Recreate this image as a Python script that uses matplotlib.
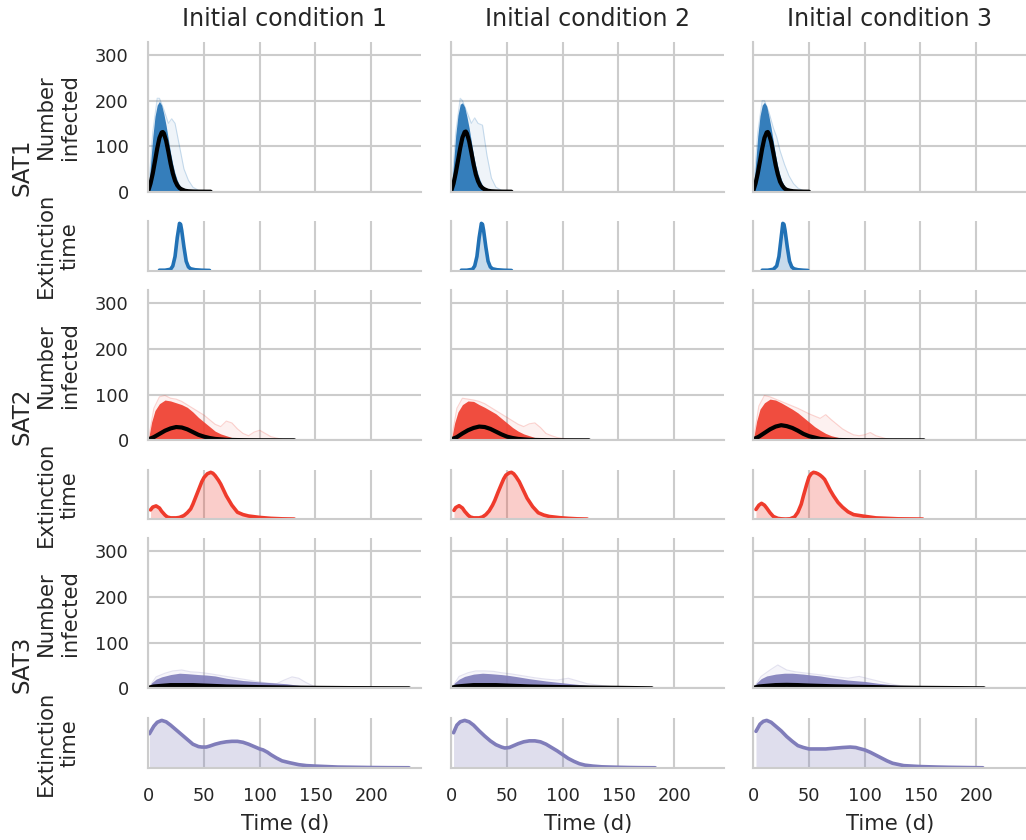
import matplotlib
matplotlib.use("Agg")
import matplotlib.pyplot as plt

# ---------------- data ----------------
strains = ["SAT1", "SAT2", "SAT3"]
conditions = ["Initial condition 1", "Initial condition 2", "Initial condition 3"]
colors = ["#2171b5", "#ef3b2c", "#807dba"]
xticks = [0, 50, 100, 150, 200]
yticks = [0, 100, 200, 300]

# --- SAT1 ---
sat1_core_t = [0, 2, 4, 6, 8, 10, 12, 14, 16, 18, 20, 22, 24, 26, 28, 30, 33, 36]
sat1_core = [
    [0, 60, 120, 165, 190, 198, 190, 170, 145, 115, 85, 60, 40, 25, 15, 8, 3, 0],
    [0, 62, 125, 168, 192, 195, 186, 165, 140, 110, 80, 56, 38, 24, 14, 7, 3, 0],
    [0, 60, 122, 166, 190, 196, 188, 166, 140, 110, 80, 55, 36, 22, 13, 7, 2, 0],
]
sat1_outer_t = [0, 4, 8, 10, 14, 18, 21, 24, 28, 32, 36, 40, 45, 50]
sat1_outer = [
    [0, 130, 205, 205, 180, 150, 160, 150, 100, 50, 25, 10, 3, 0],
    [0, 130, 205, 200, 175, 150, 162, 150, 146, 80, 30, 10, 3, 0],
    [0, 130, 200, 200, 175, 140, 120, 90, 60, 35, 18, 8, 2, 0],
]
sat1_mean_t = [
    [0, 2, 4, 6, 8, 10, 12, 13, 14, 16, 18, 20, 22, 24, 26, 28, 30, 33, 36, 40, 45, 56],
    [0, 2, 4, 6, 8, 10, 12, 13, 14, 16, 18, 20, 22, 24, 26, 28, 30, 33, 36, 40, 45, 54],
    [0, 2, 4, 6, 8, 10, 12, 13, 14, 16, 18, 20, 22, 24, 26, 28, 30, 33, 36, 40, 45, 50],
]
sat1_mean = [
    [2, 18, 40, 67, 95, 118, 130, 131, 128, 112, 88, 62, 40, 24, 14, 8, 5, 2, 1, 0.5, 0.2, 0],
    [2, 18, 41, 68, 96, 119, 131, 132, 128, 111, 86, 60, 38, 23, 13, 8, 5, 2, 1, 0.5, 0.2, 0],
    [2, 18, 40, 67, 95, 118, 130, 131, 127, 110, 85, 59, 38, 22, 13, 7, 4, 2, 1, 0.5, 0.2, 0],
]
sat1_kde_t = [
    [10, 15, 20, 22, 24, 26, 28, 29, 30, 32, 34, 36, 38, 42, 48, 55],
    [9, 14, 19, 21, 23, 25, 27, 28, 29, 31, 33, 35, 37, 41, 47, 54],
    [8, 13, 18, 21, 23, 25, 26.5, 27.5, 28.5, 30.5, 32.5, 34.5, 36.5, 40, 45, 49],
]
sat1_kde = [
    [0.01, 0.01, 0.03, 0.1, 0.3, 0.7, 1.0, 0.98, 0.85, 0.5, 0.2, 0.08, 0.04, 0.02, 0.01, 0.005],
    [0.01, 0.01, 0.03, 0.1, 0.3, 0.7, 1.0, 0.98, 0.85, 0.5, 0.2, 0.08, 0.04, 0.02, 0.01, 0.005],
    [0.01, 0.01, 0.03, 0.1, 0.3, 0.7, 1.0, 0.98, 0.85, 0.5, 0.2, 0.08, 0.04, 0.02, 0.01, 0.005],
]

# --- SAT2 ---
sat2_core_t = [0, 3, 6, 10, 15, 20, 25, 30, 35, 40, 45, 50, 55, 60, 65, 70, 75, 80, 90, 100]
sat2_core = [
    [0, 40, 65, 80, 88, 86, 82, 78, 72, 62, 50, 40, 30, 20, 14, 10, 6, 4, 2, 0.5],
    [0, 38, 62, 78, 86, 85, 78, 72, 65, 58, 48, 38, 28, 20, 14, 10, 6, 4, 2, 0.5],
    [0, 42, 68, 82, 90, 88, 82, 75, 68, 60, 50, 40, 30, 22, 15, 10, 7, 4, 2, 0.5],
]
sat2_outer_t = [0, 5, 10, 15, 20, 25, 30, 40, 50, 60, 65, 70, 75, 80, 85, 90, 95, 100, 105, 110, 120, 125]
sat2_outer = [
    [0, 70, 95, 98, 92, 90, 85, 70, 55, 35, 30, 42, 38, 25, 15, 10, 18, 22, 15, 8, 2, 0],
    [0, 70, 92, 90, 88, 85, 80, 65, 50, 35, 30, 36, 38, 28, 15, 10, 6, 4, 2, 1, 0, 0],
    [0, 75, 98, 95, 90, 85, 80, 70, 58, 48, 56, 45, 35, 25, 18, 12, 10, 12, 17, 10, 3, 0],
]
sat2_mean_t = [
    [0, 5, 10, 15, 20, 25, 30, 35, 40, 45, 50, 55, 60, 70, 80, 90, 100, 131],
    [0, 5, 10, 15, 20, 25, 30, 35, 40, 45, 50, 55, 60, 70, 80, 90, 100, 123.5],
    [0, 5, 10, 15, 20, 25, 30, 35, 40, 45, 50, 55, 60, 70, 80, 90, 100, 153],
]
sat2_mean = [
    [2, 7, 14, 21, 26, 29, 28, 24, 18, 12, 8, 5, 3, 1, 0.5, 0.2, 0.1, 0],
    [2, 7, 15, 22, 27, 30, 29, 25, 19, 13, 8, 5, 3, 1, 0.5, 0.2, 0.1, 0],
    [2, 8, 16, 24, 30, 33, 31, 27, 21, 14, 9, 6, 3, 1, 0.5, 0.2, 0.1, 0],
]
sat2_kde_t = [
    [2, 4, 7, 10, 12, 15, 17, 20, 25, 28, 32, 35, 38, 40, 43, 46, 48, 50, 53, 56, 58, 60, 63, 65, 68, 70, 75, 80, 85, 90, 100, 110, 120, 131],
    [2.4, 4, 7, 10, 12, 15, 17, 20, 25, 28, 31, 34, 37, 39, 42, 45, 47, 49, 52, 54, 56, 58, 61, 63, 66, 68, 73, 78, 83, 88, 97, 105, 113, 122],
    [2.4, 5, 7.4, 10, 12, 15, 18, 22, 25, 29, 33, 37, 40, 43, 45, 48, 50, 52, 54, 56, 58, 60, 62, 64, 66, 69, 72, 76, 80, 85, 90, 98, 110, 130, 152],
]
sat2_kde = [
    [0.2, 0.26, 0.285, 0.24, 0.17, 0.09, 0.05, 0.03, 0.03, 0.04, 0.08, 0.14, 0.22, 0.32, 0.5, 0.68, 0.8, 0.89, 0.97, 1.0, 0.98, 0.93, 0.83, 0.75, 0.6, 0.5, 0.3, 0.15, 0.1, 0.07, 0.04, 0.02, 0.01, 0.005],
    [0.19, 0.25, 0.29, 0.24, 0.17, 0.09, 0.05, 0.03, 0.03, 0.05, 0.1, 0.18, 0.3, 0.4, 0.58, 0.75, 0.86, 0.94, 0.99, 1.0, 0.97, 0.91, 0.8, 0.7, 0.55, 0.45, 0.27, 0.14, 0.09, 0.06, 0.035, 0.02, 0.01, 0.005],
    [0.21, 0.3, 0.34, 0.3, 0.24, 0.14, 0.06, 0.02, 0.01, 0.005, 0.01, 0.05, 0.15, 0.32, 0.5, 0.75, 0.9, 0.97, 1.0, 0.99, 0.97, 0.94, 0.9, 0.85, 0.76, 0.62, 0.5, 0.36, 0.26, 0.16, 0.1, 0.07, 0.03, 0.01, 0.005],
]

# --- SAT3 ---
sat3_core_t = [0, 3, 7, 12, 20, 28, 35, 45, 52, 60, 70, 76, 85, 100, 112, 124, 140, 155, 171, 185, 200]
sat3_core = [
    [0, 12, 20, 25, 30, 33, 32, 30, 29, 27, 22, 20, 17, 14, 12, 10, 5, 3, 1, 0.5, 0],
    [0, 12, 20, 26, 31, 33, 32, 30, 28, 25, 21, 19, 16, 12, 9, 6, 3, 1.5, 0.5, 0, 0],
    [0, 12, 21, 27, 31, 33, 33, 31, 29, 27, 23, 21, 18, 15, 11, 8, 4, 2, 1, 0.3, 0],
]
sat3_outer_t = [0, 7, 15, 22, 30, 38, 45, 55, 65, 75, 85, 95, 105, 115, 122, 129, 135, 142, 150, 160]
sat3_outer = [
    [0, 25, 33, 38, 40, 36, 35, 32, 28, 24, 20, 16, 12, 10, 18, 25, 22, 12, 3, 0],
    [0, 26, 34, 38, 38, 37, 34, 31, 27, 23, 20, 18, 22, 15, 10, 8, 6, 4, 2, 0],
    [0, 26, 40, 51, 40, 36, 34, 31, 28, 25, 22, 26, 20, 14, 10, 7, 5, 4, 3, 0],
]
sat3_mean_t = [
    [0, 5, 10, 20, 30, 40, 50, 70, 100, 130, 150, 180, 200, 234],
    [0, 5, 10, 20, 30, 40, 50, 70, 100, 130, 150, 180],
    [0, 5, 10, 20, 30, 40, 50, 70, 100, 130, 150, 180, 207],
]
sat3_mean = [
    [1, 4, 5, 7, 7, 7, 6, 4, 2.5, 1.5, 1, 0.5, 0.3, 0],
    [1, 4, 5, 7, 7, 7, 6, 4, 2.5, 1.5, 1, 0],
    [1, 4, 5, 7, 7.5, 7, 6, 4.5, 3, 1.5, 1, 0.5, 0],
]
sat3_kde_t = [
    [1, 5, 8, 12, 16, 20, 25, 30, 35, 40, 45, 48, 52, 55, 60, 65, 70, 75, 80, 85, 90, 95, 100, 103, 107, 110, 115, 120, 127, 135, 142, 150, 160, 170, 185, 200, 215, 234],
    [2, 5, 8, 12, 16, 20, 25, 30, 35, 40, 45, 48, 52, 55, 60, 65, 70, 75, 80, 85, 90, 95, 100, 105, 110, 115, 120, 127, 135, 142, 150, 160, 170, 183],
    [2.4, 6, 9, 12, 16, 20, 25, 30, 35, 40, 45, 50, 55, 60, 65, 70, 75, 80, 87, 92, 95, 100, 105, 110, 115, 120, 125, 135, 150, 165, 175, 190, 206],
]
sat3_kde = [
    [0.72, 0.88, 0.96, 1.0, 0.97, 0.9, 0.8, 0.7, 0.6, 0.5, 0.45, 0.44, 0.44, 0.46, 0.5, 0.53, 0.55, 0.56, 0.56, 0.54, 0.5, 0.45, 0.4, 0.38, 0.33, 0.28, 0.21, 0.15, 0.11, 0.07, 0.05, 0.04, 0.03, 0.02, 0.015, 0.01, 0.007, 0.005],
    [0.74, 0.9, 0.97, 1.0, 0.97, 0.9, 0.78, 0.67, 0.57, 0.49, 0.44, 0.42, 0.43, 0.46, 0.51, 0.55, 0.57, 0.57, 0.55, 0.5, 0.43, 0.36, 0.28, 0.2, 0.14, 0.09, 0.06, 0.04, 0.025, 0.02, 0.015, 0.01, 0.007, 0.005],
    [0.77, 0.92, 0.98, 1.0, 0.96, 0.88, 0.78, 0.66, 0.56, 0.47, 0.43, 0.4, 0.4, 0.4, 0.4, 0.41, 0.42, 0.43, 0.44, 0.43, 0.41, 0.38, 0.33, 0.27, 0.21, 0.15, 0.1, 0.05, 0.03, 0.02, 0.015, 0.01, 0.005],
]

core_t = [sat1_core_t, sat2_core_t, sat3_core_t]
core = [sat1_core, sat2_core, sat3_core]
outer_t = [sat1_outer_t, sat2_outer_t, sat3_outer_t]
outer = [sat1_outer, sat2_outer, sat3_outer]
mean_t = [sat1_mean_t, sat2_mean_t, sat3_mean_t]
mean = [sat1_mean, sat2_mean, sat3_mean]
kde_t = [sat1_kde_t, sat2_kde_t, sat3_kde_t]
kde = [sat1_kde, sat2_kde, sat3_kde]

# ---------------- layout (pixels) ----------------
W, H = 1026, 840
col_left = [148.3, 451.3, 753.3]
col_w = 273
tall_rows = [(42, 191.7), (290, 440.3), (538, 688.3)]
short_rows = [(221, 270.7), (470, 519.3), (718, 768)]

TXT = "#262626"
GRID = "#cccccc"
plt.rcParams.update({
    "font.family": ["DejaVu Sans"],
    "text.color": TXT,
    "axes.labelcolor": TXT,
    "xtick.color": TXT,
    "ytick.color": TXT,
})

fig = plt.figure(figsize=(W / 100, H / 100), dpi=100)


def make_ax(c, top, bot):
    ax = fig.add_axes([col_left[c] / W, (H - bot) / H, col_w / W, (bot - top) / H])
    for s in ["top", "right"]:
        ax.spines[s].set_visible(False)
    for s in ["left", "bottom"]:
        ax.spines[s].set_color(GRID)
        ax.spines[s].set_linewidth(1.5)
    ax.grid(True, color=GRID, lw=1.5)
    ax.set_axisbelow(True)
    ax.tick_params(length=0, pad=14, labelsize=12.8)
    ax.set_xlim(0, 245)
    ax.set_xticks(xticks)
    return ax


for r in range(3):
    col = colors[r]
    for c in range(3):
        # trajectories panel
        ax = make_ax(c, *tall_rows[r])
        ax.set_ylim(0, 328.5)
        ax.set_yticks(yticks)
        ax.fill_between(outer_t[r], 0, outer[r][c], color=col, alpha=0.07, lw=0)
        ax.plot(outer_t[r], outer[r][c], color=col, alpha=0.22, lw=0.8)
        ax.fill_between(core_t[r], 0, core[r][c], color=col, alpha=0.9, lw=0)
        ax.plot(mean_t[r][c], mean[r][c], color="black", lw=3, solid_capstyle="round")
        ax.tick_params(axis="x", labelbottom=False)
        if c == 0:
            ax.set_ylabel("Number\ninfected", fontsize=15.2)
            ax.yaxis.set_label_coords(-0.252, 0.5)
        else:
            ax.tick_params(axis="y", labelleft=False)
        if r == 0:
            ax.set_title(conditions[c], fontsize=17, pad=11.5)

        # extinction-time panel
        ax2 = make_ax(c, *short_rows[r])
        ax2.fill_between(kde_t[r][c], 0, kde[r][c], color=col, alpha=0.25, lw=0)
        ax2.plot(kde_t[r][c], kde[r][c], color=col, lw=2.6, solid_capstyle="round")
        ax2.set_ylim(0, 1.05)
        ax2.set_yticks([])
        ax2.grid(False, axis="y")
        if c == 0:
            ax2.set_ylabel("Extinction\ntime", fontsize=15.2)
            ax2.yaxis.set_label_coords(-0.252, 0.5)
        if r < 2:
            ax2.tick_params(axis="x", labelbottom=False)
        else:
            ax2.set_xlabel("Time (d)", fontsize=15.2, labelpad=6)

    fig.text(21.5 / W, 1 - (tall_rows[r][1] - 24) / H, strains[r], rotation=90,
             ha="center", va="center", fontsize=16.5)

fig.savefig("out.png", dpi=100)
